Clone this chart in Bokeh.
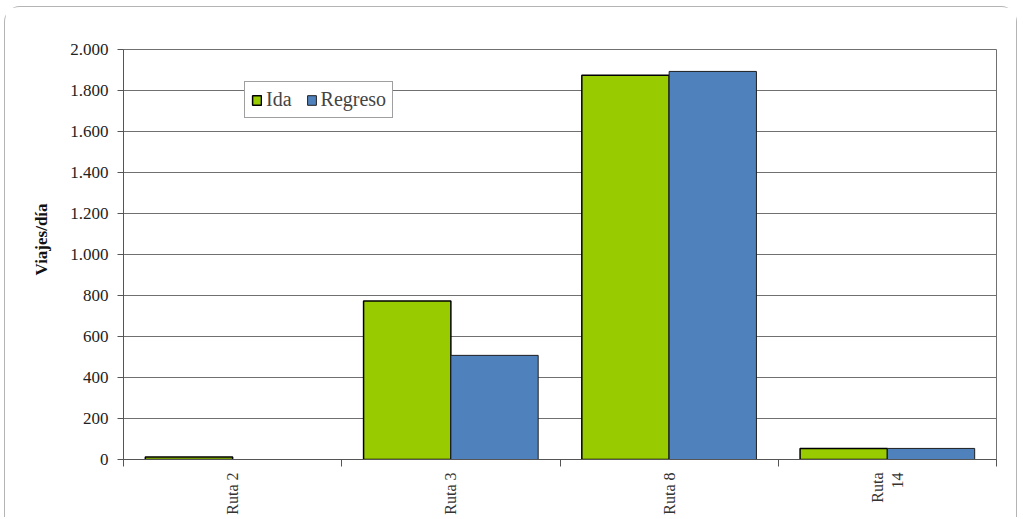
import math
from bokeh.plotting import figure
from bokeh.models import ColumnDataSource, FixedTicker, Legend, LegendItem, Range1d, Title
from bokeh.embed import file_html
from bokeh.resources import INLINE

categories = ["Ruta 2", "Ruta 3", "Ruta 8", "Ruta\n14"]
ida = [12, 773, 1875, 54]
regreso = [0, 508, 1893, 54]
y_ticks = [0, 200, 400, 600, 800, 1000, 1200, 1400, 1600, 1800, 2000]
y_tick_labels = ["0", "200", "400", "600", "800", "1.000", "1.200", "1.400", "1.600", "1.800", "2.000"]
y_title = "Viajes/día"

FONT = "'Liberation Serif', 'Times New Roman', serif"

centers = [i + 0.5 for i in range(len(categories))]
src = ColumnDataSource(dict(
    x_ida=[c - 0.2 for c in centers],
    x_reg=[c + 0.2 for c in centers],
    ida=ida,
    regreso=regreso,
))

p = figure(width=1013, height=511, output_backend="svg", toolbar_location=None,
           x_range=Range1d(0, len(categories)), y_range=Range1d(0, 2000),
           min_border_left=118, min_border_right=22, min_border_top=42, min_border_bottom=59)
p.styles = {"border-top": "1.5px solid #b4b4b4", "border-left": "1.5px solid #b4b4b4",
            "border-right": "1.5px solid #b4b4b4", "border-top-left-radius": "16px",
            "border-top-right-radius": "16px", "margin-left": "4px", "margin-top": "6px"}

r1 = p.vbar(x="x_ida", top="ida", width=0.4, source=src, fill_color="#99CC00",
            line_color="#000000", line_width=1.5)
r2 = p.vbar(x="x_reg", top="regreso", width=0.4, source=src, fill_color="#4F81BD",
            line_color="#1f1f1f", line_width=1)

# x axis
p.xaxis.ticker = FixedTicker(ticks=centers, minor_ticks=list(range(len(categories) + 1)))
p.xaxis.major_label_overrides = {c: lab for c, lab in zip(centers, categories)}
p.xaxis.major_label_orientation = math.pi / 2
p.xaxis.major_tick_line_color = None
p.xaxis.minor_tick_in = 0
p.xaxis.minor_tick_out = 7
p.xaxis.minor_tick_line_color = "#555555"
p.xaxis.axis_line_color = "#555555"
p.xaxis.major_label_text_font = FONT
p.xaxis.major_label_text_font_size = "16px"
p.xaxis.major_label_text_color = "#333333"
p.xaxis.major_label_standoff = 6

# y axis
p.yaxis.ticker = FixedTicker(ticks=y_ticks)
p.yaxis.major_label_overrides = {t: lab for t, lab in zip(y_ticks, y_tick_labels)}
p.yaxis.minor_tick_line_color = None
p.yaxis.major_tick_in = 0
p.yaxis.major_tick_out = 6
p.yaxis.major_tick_line_color = "#555555"
p.yaxis.axis_line_color = "#555555"
p.yaxis.major_label_text_font = FONT
p.yaxis.major_label_text_font_size = "17px"
p.yaxis.major_label_text_color = "#222222"
p.yaxis.major_label_standoff = 9

p.add_layout(Title(text=y_title, align="left", offset=184, standoff=34,
                   text_font=FONT, text_font_size="17px", text_font_style="bold",
                   text_color="#111111"), "left")

p.xgrid.grid_line_color = None
p.ygrid.grid_line_color = "#707070"
p.ygrid.grid_line_width = 1
p.outline_line_color = "#707070"
p.outline_line_width = 1

legend = Legend(items=[LegendItem(label="Ida", renderers=[r1]),
                       LegendItem(label="Regreso", renderers=[r2])],
                orientation="horizontal", location=(121, 341),
                label_text_font=FONT, label_text_font_size="20px",
                glyph_width=11, glyph_height=12, spacing=14, padding=6,
                margin=0, border_line_color="#404040", border_line_width=1,
                background_fill_alpha=1, label_standoff=4)
p.add_layout(legend, "center")

open("out.html", "w").write(file_html(p, INLINE))
